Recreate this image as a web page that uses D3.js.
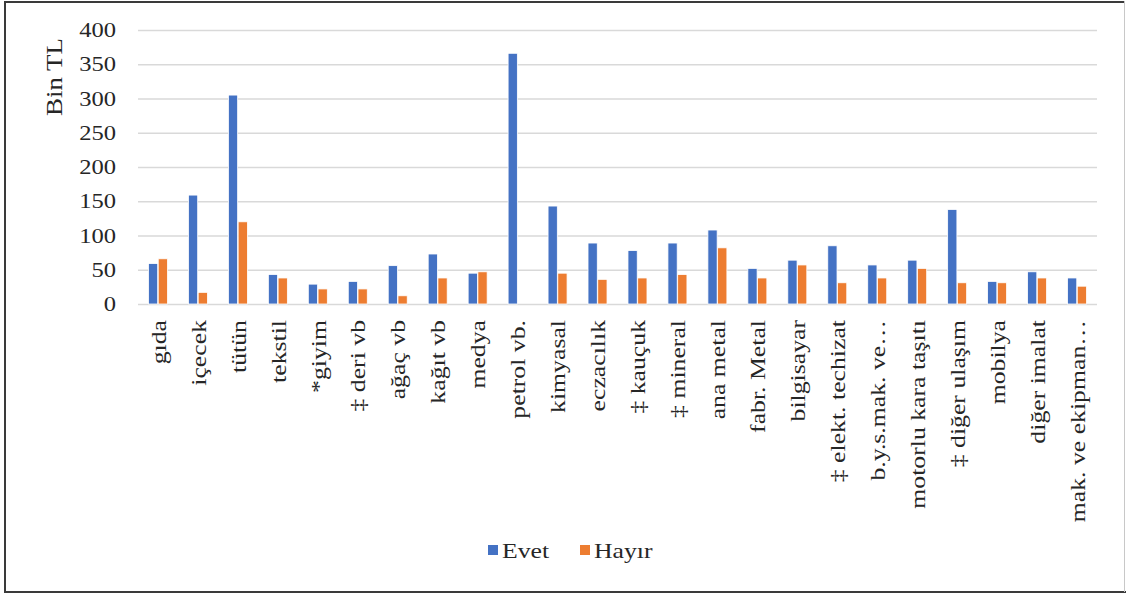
<!DOCTYPE html>
<html>
<head>
<meta charset="utf-8">
<script src="https://cdn.jsdelivr.net/npm/d3@7"></script>
<style>
  html, body { margin: 0; padding: 0; background: #fff; }
  svg { display: block; }
  svg text { font-family: 'Liberation Serif', 'Times New Roman', serif !important; fill: #262626; }
</style>
</head>
<body>
<svg id="chart" width="1126" height="594"></svg>
<script>
// Sector categories (x axis)
const categories = [
  "gıda", "içecek", "tütün", "tekstil", "*giyim", "‡ deri vb", "ağaç vb",
  "kağıt vb", "medya", "petrol vb.", "kimyasal", "eczacılık", "‡ kauçuk",
  "‡ mineral", "ana metal", "fabr. Metal", "bilgisayar", "‡ elekt. techizat",
  "b.y.s.mak. ve…", "motorlu kara taşıtı", "‡ diğer ulaşım", "mobilya",
  "diğer imalat", "mak. ve ekipman…"
];
// Series values, thousand TL
const evet = [59, 159, 305, 43, 29, 33, 56, 73, 45, 366, 143, 89, 78, 89, 108, 52, 64, 85, 57, 64, 138, 33, 47, 38];
const hayir = [66, 17, 120, 38, 22, 22, 12, 38, 47, 0, 45, 36, 38, 43, 82, 38, 57, 31, 38, 52, 31, 31, 38, 26];
const seriesNames = ["Evet", "Hayır"];
const seriesColors = ["#4472C4", "#ED7D31"];
const yTicks = [0, 50, 100, 150, 200, 250, 300, 350, 400];

const svg = d3.select("#chart");
const W = 1126, H = 594;
const plot = { left: 138, right: 1097, top: 30, bottom: 304 };
const sx = 1.17; // glyph widening used for all chart text
const serif = "'Liberation Serif', 'Times New Roman', serif";

// Outer frame
svg.append("rect").attr("x", 0).attr("y", 0).attr("width", W).attr("height", H).attr("fill", "#fff");
svg.append("line").attr("x1", 5).attr("x2", 1125).attr("y1", 2).attr("y2", 2).attr("stroke", "#3a3a3a").attr("stroke-width", 2);
svg.append("line").attr("x1", 5).attr("x2", 5).attr("y1", 1).attr("y2", 593).attr("stroke", "#3a3a3a").attr("stroke-width", 2);
svg.append("line").attr("x1", 4).attr("x2", 1126).attr("y1", 592).attr("y2", 592).attr("stroke", "#3a3a3a").attr("stroke-width", 2);
svg.append("line").attr("x1", 1124.5).attr("x2", 1124.5).attr("y1", 1).attr("y2", 592).attr("stroke", "#c8c8c8").attr("stroke-width", 1);

const x0 = d3.scaleBand().domain(categories).range([plot.left, plot.right]).paddingInner(0.5).paddingOuter(0.25);
const x1 = d3.scaleBand().domain(seriesNames).range([0, x0.bandwidth()]).padding(0.05);
const y = d3.scaleLinear().domain([0, 400]).range([plot.bottom, plot.top]);

// Gridlines
svg.append("g")
  .attr("transform", `translate(${plot.left},0)`)
  .call(d3.axisLeft(y).tickValues(yTicks).tickSize(-(plot.right - plot.left)).tickFormat(""))
  .call(g => g.select(".domain").remove())
  .call(g => g.selectAll("line").attr("stroke", "#d9d9d9").attr("stroke-width", 1.5));

// Y tick labels
const yAxis = svg.append("g")
  .attr("transform", `translate(${plot.left},0)`)
  .attr("font-family", serif)
  .call(d3.axisLeft(y).tickValues(yTicks).tickSize(0).tickPadding(22))
  .call(g => g.select(".domain").remove())
  .attr("font-family", serif);
yAxis.selectAll("text")
  .style("font-family", serif)
  .style("font-size", "21px")
  .attr("fill", "#262626")
  .attr("transform", function() {
    const tx = +d3.select(this).attr("x");
    return `translate(${tx},0) scale(${sx},1) translate(${-tx},0)`;
  });

// Y axis title
svg.append("text")
  .attr("transform", `translate(62,77) rotate(-90) scale(${sx},1)`)
  .attr("text-anchor", "middle")
  .style("font-family", serif)
  .style("font-size", "23px")
  .text("Bin TL");

// Bars
const rows = categories.map((c, i) => ({ cat: c, vals: [evet[i], hayir[i]] }));
const groups = svg.append("g").selectAll("g").data(rows).join("g")
  .attr("transform", d => `translate(${x0(d.cat)},0)`);
groups.selectAll("rect")
  .data(d => d.vals.map((v, k) => ({ key: seriesNames[k], v, color: seriesColors[k] })))
  .join("rect")
  .attr("x", d => x1(d.key))
  .attr("width", x1.bandwidth())
  .attr("y", d => y(d.v))
  .attr("height", d => y(0) - y(d.v))
  .attr("fill", d => d.color)
  .attr("stroke", "#fff")
  .attr("stroke-width", d => d.v > 0 ? 0.8 : 0);

// X category labels
const xAxis = svg.append("g")
  .attr("transform", `translate(0,${plot.bottom})`)
  .call(d3.axisBottom(x0).tickSize(0).tickPadding(0))
  .call(g => g.select(".domain").remove())
  .attr("font-family", serif);
xAxis.selectAll(".tick text")
  .style("font-family", serif)
  .style("font-size", "22px")
  .attr("fill", "#262626")
  .attr("text-anchor", "end")
  .attr("dy", "0.35em")
  .attr("y", 0)
  .attr("x", 0)
  .attr("transform", `translate(0,16) rotate(-90) scale(${sx},1)`);

// Legend
const legend = svg.append("g").attr("transform", "translate(488,550)");
const items = [{ name: seriesNames[0], color: seriesColors[0], dx: 0 }, { name: seriesNames[1], color: seriesColors[1], dx: 92 }];
items.forEach(it => {
  const g = legend.append("g").attr("transform", `translate(${it.dx},0)`);
  g.append("rect").attr("x", 0).attr("y", -5).attr("width", 10).attr("height", 10).attr("fill", it.color);
  g.append("text").attr("transform", `translate(14,0) scale(${sx},1)`).attr("dy", "0.35em")
    .style("font-family", serif)
    .style("font-size", "22px")
    .text(it.name);
});
</script>
</body>
</html>
